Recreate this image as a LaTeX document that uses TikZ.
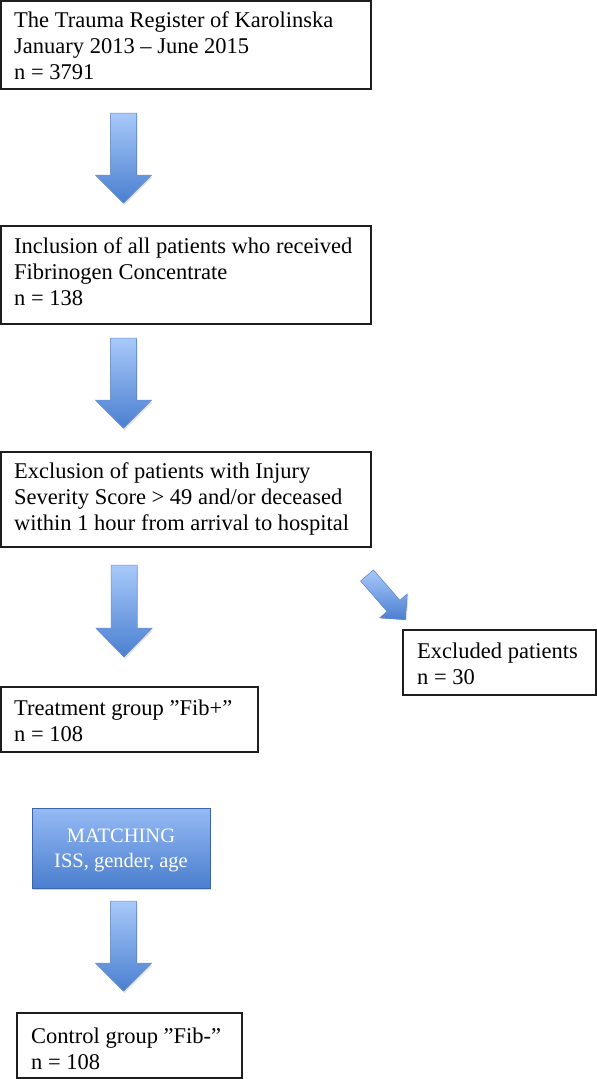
\documentclass[tikz,border=0pt]{standalone}
\usepackage{fontspec}
\setmainfont{Liberation Serif}
\usetikzlibrary{calc,shadows}
\definecolor{arrlight}{HTML}{A8C9FA}
\definecolor{arrdark}{HTML}{4A7FD0}
\definecolor{arredge}{HTML}{6A93D3}
\definecolor{boxline}{HTML}{1E1E1E}
\definecolor{matchtop}{HTML}{96BAF4}
\definecolor{matchbot}{HTML}{4A7ECF}
\begin{document}
\begin{tikzpicture}[x=1pt,y=-1pt,
  box/.style={draw=boxline, line width=1.8pt, rectangle, inner sep=0pt, outer sep=0pt, anchor=north west},
  txt/.style={anchor=north west, inner sep=0pt, align=left, font=\fontsize{22.5}{26}\selectfont},
  matchbox/.style={rectangle, inner sep=0pt, outer sep=0pt, anchor=north west,
    top color=matchtop, bottom color=matchbot, draw=matchbot!80!black, line width=0.4pt,
    drop shadow={opacity=0.35, shadow xshift=1pt, shadow yshift=-2pt}},
  matchtxt/.style={anchor=north, inner sep=0pt, align=center, text=white, font=\fontsize{20.5}{25}\selectfont},
  blockarrow/.pic={
    \fill[black, opacity=0.12] (-12,2) -- (14,2) -- (14,64) -- (29,64) -- (1,92) -- (-27,64) -- (-12,64) -- cycle;
    \fill[top color=arrlight, bottom color=arrdark, draw=arredge, line width=0.5pt]
      (-13,0) -- (13,0) -- (13,62) -- (28,62) -- (0,90) -- (-28,62) -- (-13,62) -- cycle;}
]
\useasboundingbox (0,0) rectangle (597,1079);

% boxes
\node[box, minimum width=370, minimum height=88] (b1) at (1,1) {};
\node[box, minimum width=370, minimum height=98] (b2) at (1,226) {};
\node[box, minimum width=370, minimum height=95] (b3) at (1,452) {};
\node[box, minimum width=257, minimum height=65] (b4) at (1,687) {};
\node[box, minimum width=193, minimum height=65] (ex) at (403,630) {};
\node[matchbox, minimum width=178, minimum height=80] (mb) at (32,808) {};
\node[box, minimum width=225, minimum height=65] (ct) at (17,1013) {};

% texts
\node[txt] (t1) at ($(b1.north west)+(13,7.8)$) {\strut The Trauma Register of Karolinska\\January 2013 – June 2015\\n = 3791};
\node[txt] (t2) at ($(b2.north west)+(13,8.8)$) {\strut Inclusion of all patients who received\\Fibrinogen Concentrate\\n = 138};
\node[txt] (t3) at ($(b3.north west)+(13,7.8)$) {\strut Exclusion of patients with Injury\\Severity Score > 49 and/or deceased\\within 1 hour from arrival to hospital};
\node[txt] (t4) at ($(b4.north west)+(13,9.8)$) {\strut Treatment group "Fib+”\\n = 108};
\node[txt] (tex) at ($(ex.north west)+(14,9.8)$) {\strut Excluded patients\\n = 30};
\node[txt] (tct) at ($(ct.north west)+(14,11.8)$) {\strut Control group "Fib-”\\n = 108};
\node[matchtxt] (tmb) at ($(mb.north)+(0,17)$) {\strut MATCHING\\ISS, gender, age};

% block arrows
\coordinate (a1) at ($(b1.south west)+(122.5,24)$);
\coordinate (a2) at ($(b2.south west)+(122.5,14)$);
\coordinate (a3) at ($(b3.south west)+(123,18)$);
\coordinate (a4) at ($(mb.south west)+(91.5,13)$);
\coordinate (ad) at ($(b3.south east)+(-4,28.5)$);
\pic at (a1) {blockarrow};
\pic at (a2) {blockarrow};
\pic[yscale=1.02] at (a3) {blockarrow};
\pic at (a4) {blockarrow};
\pic[rotate=41, scale=0.65] at (ad) {blockarrow};
\end{tikzpicture}
\end{document}
